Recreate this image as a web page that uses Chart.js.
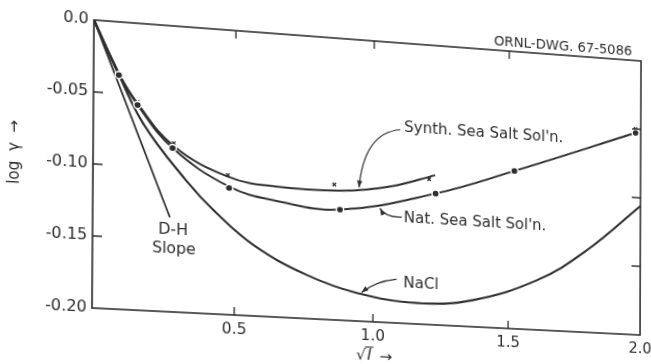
<!DOCTYPE html>
<html><head><meta charset="utf-8">
<script src="https://cdn.jsdelivr.net/npm/chart.js@4/dist/chart.umd.min.js"></script>
<style>
html,body{margin:0;padding:0;background:#fff;overflow:hidden;width:651px;height:364px}
#c{position:absolute;left:0;top:0;transform-origin:0 0}
</style></head><body>
<canvas id="c" width="651" height="364"></canvas>
<script>
// ---- data ----
const xTicks = [0, 0.5, 1.0, 1.5, 2.0];
const yTicks = [0, -0.05, -0.10, -0.15, -0.20];

const dhX = [0, 0.27];
const dhY = [0, -0.134];

const naclX = [0, 0.07, 0.172, 0.324, 0.434, 0.574, 0.757, 0.94, 1.16, 1.366, 1.609, 1.792, 2.0];
const naclY = [0, -0.029, -0.069, -0.107, -0.129, -0.151, -0.169, -0.180, -0.185, -0.181, -0.164, -0.141, -0.106];

const natCurveX = [0, 0.088, 0.154, 0.278, 0.479, 0.647, 0.878, 1.228, 1.521, 1.98];
const natCurveY = [0, -0.037, -0.057, -0.0855, -0.110, -0.118, -0.1216, -0.106, -0.0862, -0.0528];
const natMarkX = [0.088, 0.154, 0.278, 0.479, 0.878, 1.228, 1.521, 1.98];
const natMarkY = [-0.037, -0.057, -0.0855, -0.111, -0.1216, -0.106, -0.0862, -0.0528];

const synCurveX = [0, 0.091, 0.154, 0.282, 0.474, 0.647, 0.89, 1.061, 1.226];
const synCurveY = [0, -0.037, -0.056, -0.084, -0.103, -0.108, -0.108, -0.103, -0.093];
const synMarkX = [0.091, 0.154, 0.282, 0.474, 0.857, 1.204, 1.98];
const synMarkY = [-0.036, -0.055, -0.082, -0.102, -0.104, -0.096, -0.050];

// ---- helpers ----
const pts = (xs, ys) => xs.map((x, i) => ({x, y: ys[i]}));
const INK = '#2e2e2e';
const FONT = '"DejaVu Sans", sans-serif';

function curve(data, w, t) {
  return {data, showLine: true, pointRadius: 0, borderColor: INK, borderWidth: w,
          tension: t, order: 2};
}

const decor = {
  id: 'decor',
  afterDatasetsDraw(chart) {
    const {ctx, chartArea: a, scales: {x, y}} = chart;
    const P = (vx, vy) => [x.getPixelForValue(vx), y.getPixelForValue(vy)];
    ctx.save();
    ctx.strokeStyle = INK; ctx.fillStyle = INK;
    // frame
    ctx.lineWidth = 1.6;
    ctx.strokeRect(a.left, a.top, a.right - a.left, a.bottom - a.top);
    // inward ticks
    ctx.lineWidth = 1.3;
    ctx.beginPath();
    xTicks.slice(1, -1).forEach(v => {
      const px = x.getPixelForValue(v);
      ctx.moveTo(px, a.bottom); ctx.lineTo(px, a.bottom - 8);
      ctx.moveTo(px, a.top); ctx.lineTo(px, a.top + 8);
    });
    yTicks.slice(1, -1).forEach(v => {
      const py = y.getPixelForValue(v);
      ctx.moveTo(a.left, py); ctx.lineTo(a.left + 9, py);
      ctx.moveTo(a.right, py); ctx.lineTo(a.right - 9, py);
    });
    ctx.stroke();

    // leader arrows
    function leader(s, c, e) {
      const [sx, sy] = P(...s), [cx, cy] = P(...c), [ex, ey] = P(...e);
      ctx.lineWidth = 1.2;
      ctx.beginPath(); ctx.moveTo(sx, sy); ctx.quadraticCurveTo(cx, cy, ex, ey); ctx.stroke();
      const ang = Math.atan2(ey - cy, ex - cx), L = 7, W = 2.6;
      ctx.beginPath();
      ctx.moveTo(ex, ey);
      ctx.lineTo(ex - L * Math.cos(ang) + W * Math.sin(ang), ey - L * Math.sin(ang) - W * Math.cos(ang));
      ctx.lineTo(ex - L * Math.cos(ang) - W * Math.sin(ang), ey - L * Math.sin(ang) + W * Math.cos(ang));
      ctx.closePath(); ctx.fill();
    }
    leader([1.097, -0.062], [0.965, -0.0656], [0.947, -0.1050]);
    leader([1.104, -0.1244], [1.042, -0.125], [1.024, -0.1190]);
    leader([1.086, -0.1688], [1.013, -0.1707], [0.958, -0.1795]);

    // labels
    ctx.font = '15px ' + FONT;
    ctx.textBaseline = 'middle';
    ctx.textAlign = 'left';
    let p;
    p = P(1.111, -0.0608); ctx.fillText("Synth. Sea Salt Sol'n.", p[0], p[1]);
    p = P(1.111, -0.125);  ctx.fillText("Nat. Sea Salt Sol'n.", p[0], p[1]);
    p = P(1.111, -0.1714); ctx.fillText("NaCl", p[0], p[1]);
    ctx.textAlign = 'center';
    p = P(0.282, -0.1428); ctx.fillText("D-H", p[0], p[1]);
    p = P(0.285, -0.1560); ctx.fillText("Slope", p[0], p[1]);
    ctx.font = '13.5px ' + FONT;
    p = P(1.704, 0.0062); ctx.fillText("ORNL-DWG. 67-5086", p[0], p[1]);

    // y-axis title
    ctx.font = '15px ' + FONT;
    ctx.save();
    ctx.translate(20, 157); ctx.rotate(-Math.PI / 2);
    ctx.textAlign = 'center';
    ctx.fillText('log  \u03B3  \u2192', 0, 0);
    ctx.restore();

    // x-axis title: sqrt(I) ->
    const tx = x.getPixelForValue(0.94), ty = a.bottom + 35;
    ctx.textAlign = 'left';
    ctx.font = '15px ' + FONT;
    ctx.fillText('\u221A', tx, ty);
    const rw = ctx.measureText('\u221A').width;
    ctx.font = 'italic 15px ' + FONT;
    ctx.fillText('I', tx + rw + 1, ty);
    const iw = ctx.measureText('I').width;
    ctx.lineWidth = 1.1;
    ctx.beginPath(); ctx.moveTo(tx + rw - 1, ty - 9); ctx.lineTo(tx + rw + iw + 3, ty - 9); ctx.stroke();
    ctx.font = '15px ' + FONT;
    ctx.fillText('\u2192', tx + rw + iw + 9, ty + 1);
    ctx.restore();
  }
};

const chart = new Chart(document.getElementById('c'), {
  type: 'scatter',
  data: {
    datasets: [
      {data: pts(natMarkX, natMarkY), pointStyle: 'circle', pointRadius: 3.6, pointBorderWidth: 1.4,
       pointBackgroundColor: INK, pointBorderColor: '#fff', order: 0},
      {data: pts(synMarkX, synMarkY), pointStyle: 'crossRot', pointRadius: 2.4, pointBorderWidth: 1.3,
       pointBorderColor: INK, order: 0},
      curve(pts(dhX, dhY), 1.7, 0),
      curve(pts(naclX, naclY), 2.1, 0.4),
      curve(pts(natCurveX, natCurveY), 2.0, 0.4),
      curve(pts(synCurveX, synCurveY), 2.0, 0.4)
    ]
  },
  options: {
    responsive: false, animation: false, devicePixelRatio: 1,
    layout: {padding: {left: 0, top: 20, right: 10, bottom: 0}},
    plugins: {legend: {display: false}, tooltip: {enabled: false}},
    scales: {
      x: {type: 'linear', min: 0, max: 2,
          afterBuildTicks: s => { s.ticks = xTicks.map(v => ({value: v})); },
          afterFit: s => { s.height = 56; },
          grid: {display: false, drawTicks: false}, border: {display: false},
          ticks: {padding: 6, maxRotation: 0, color: INK, font: {family: FONT, size: 15},
                  callback: v => v === 0 ? '' : Number(v).toFixed(1)}},
      y: {type: 'linear', min: -0.2, max: 0,
          afterBuildTicks: s => { s.ticks = yTicks.map(v => ({value: v})); },
          afterFit: s => { s.width = 93; },
          grid: {display: false, drawTicks: false}, border: {display: false},
          ticks: {padding: 5, color: INK, font: {family: FONT, size: 15},
                  callback: v => v === 0 ? '0.0' : Number(v).toFixed(2)}}
    }
  },
  plugins: [decor]
});

// ---- reproduce the scan's skew: map the plot rectangle onto the reference frame quad ----
function homography(src, dst) {
  const A = [], b = [];
  for (let i = 0; i < 4; i++) {
    const [x, y] = src[i], [X, Y] = dst[i];
    A.push([x, y, 1, 0, 0, 0, -x * X, -y * X]); b.push(X);
    A.push([0, 0, 0, x, y, 1, -x * Y, -y * Y]); b.push(Y);
  }
  const n = 8;
  for (let c = 0; c < n; c++) {
    let m = c;
    for (let r = c + 1; r < n; r++) if (Math.abs(A[r][c]) > Math.abs(A[m][c])) m = r;
    [A[c], A[m]] = [A[m], A[c]]; [b[c], b[m]] = [b[m], b[c]];
    for (let r = 0; r < n; r++) {
      if (r === c) continue;
      const f = A[r][c] / A[c][c];
      for (let k = c; k < n; k++) A[r][k] -= f * A[c][k];
      b[r] -= f * b[c];
    }
  }
  return b.map((v, i) => v / A[i][i]);
}
const ca = chart.chartArea;
const src = [[ca.left, ca.top], [ca.right, ca.top], [ca.right, ca.bottom], [ca.left, ca.bottom]];
const dst = [[94, 20], [641, 61], [640, 335], [92, 308]];
const [a, bq, c, d, e, f, g, h] = homography(src, dst);
document.getElementById('c').style.transform =
  `matrix3d(${a},${d},0,${g},${bq},${e},0,${h},0,0,1,0,${c},${f},0,1)`;
</script>
</body></html>
